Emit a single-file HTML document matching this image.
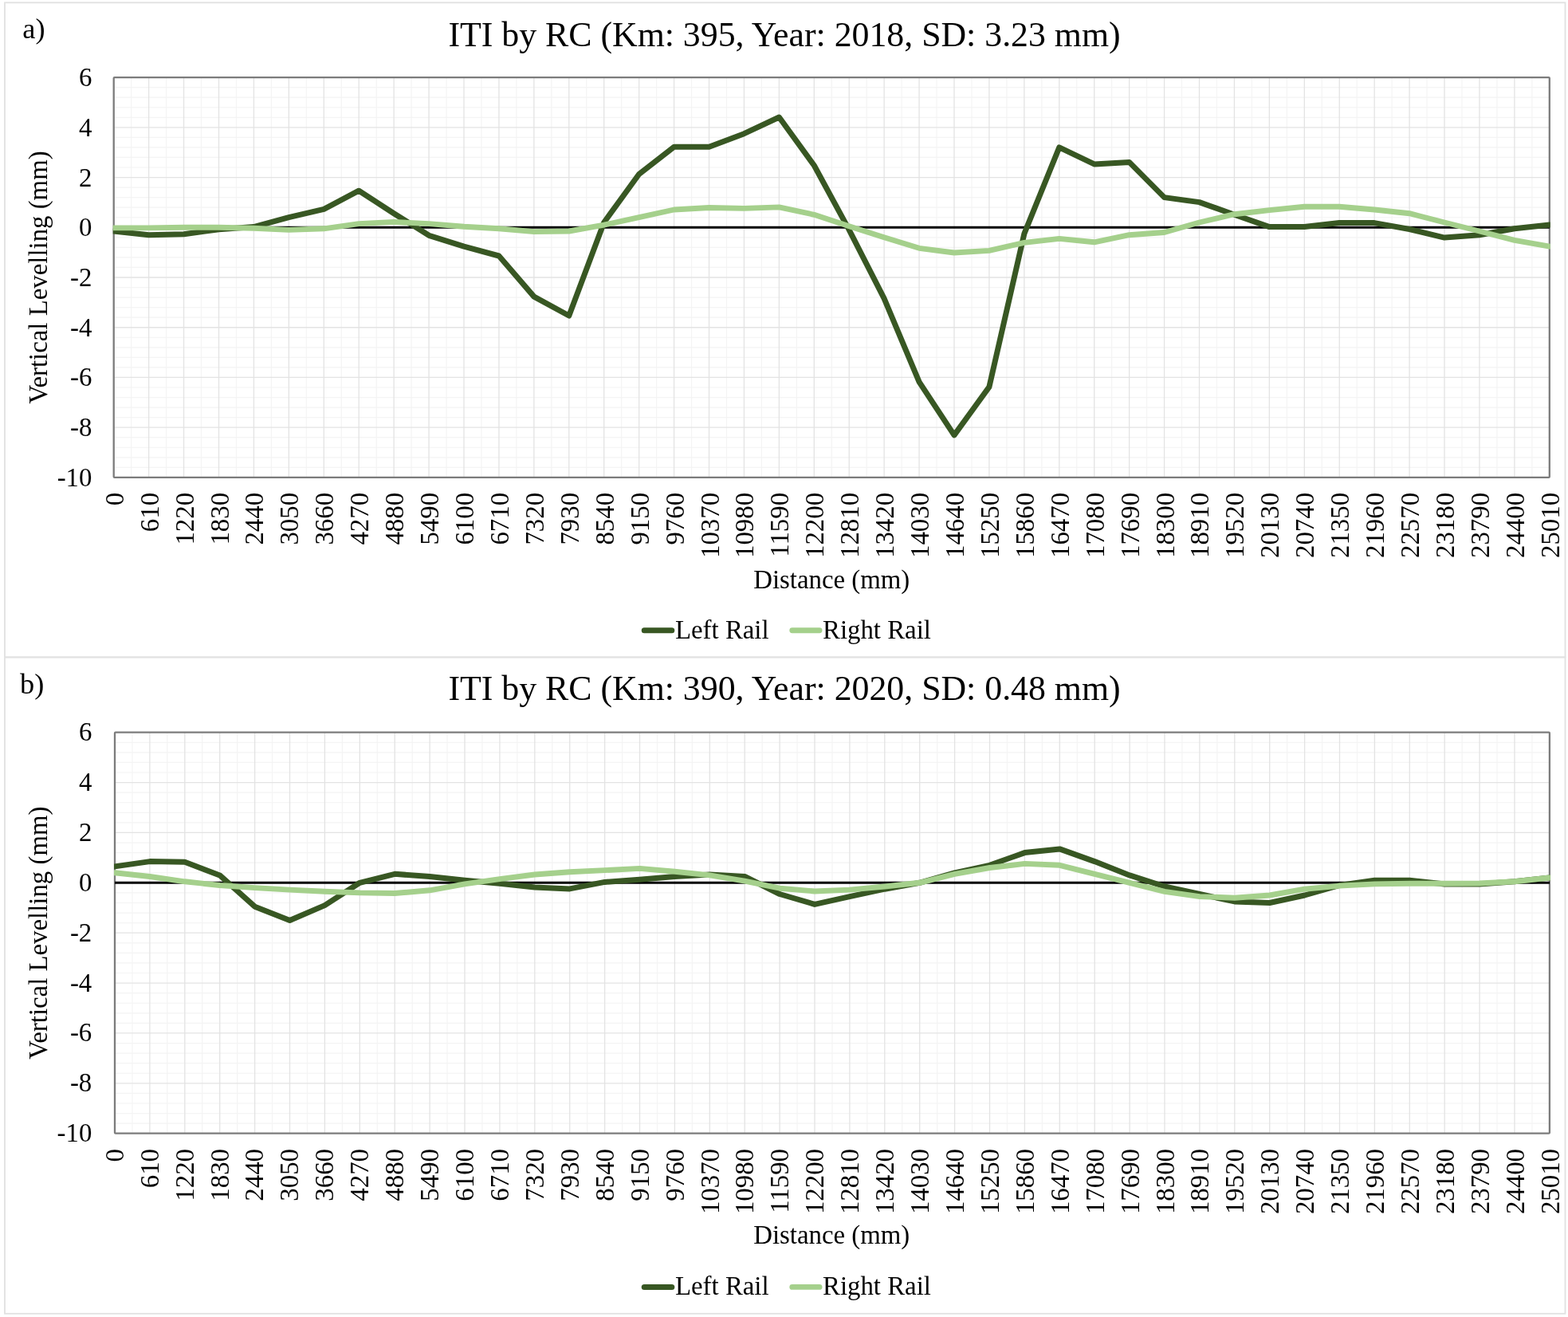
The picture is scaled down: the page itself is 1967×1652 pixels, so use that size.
<!DOCTYPE html>
<html lang="en"><head><meta charset="utf-8"><title>ITI by RC - Vertical Levelling</title>
<style>
html,body{margin:0;padding:0;background:#fff;}
body{width:1967px;height:1652px;overflow:hidden;}
svg{display:block;}
text{font-family:"Liberation Serif", "Times New Roman", serif;fill:#000;}
.t{font-size:43.80px;}
.l{font-size:32.85px;}
.g{font-size:36.3px;}
</style></head><body>
<svg width="1967" height="1652" viewBox="0 0 1967 1652">
<rect x="0" y="0" width="1967" height="1652" fill="#ffffff"/>
<defs>
<clipPath id="clip-a"><rect x="141.7" y="96.1" width="1803.1" height="503.8"/></clipPath>
<clipPath id="clip-b"><rect x="143.0" y="917.7" width="1801.9" height="505.0"/></clipPath>
</defs>
<g>
<rect x="6.0" y="3.3" width="1957.5" height="821.1" fill="none" stroke="#e1e1e1" stroke-width="1.8"/>
<path d="M142.7 109.65H1943.8M142.7 122.19H1943.8M142.7 134.74H1943.8M142.7 147.28H1943.8M142.7 172.37H1943.8M142.7 184.91H1943.8M142.7 197.46H1943.8M142.7 210.00H1943.8M142.7 235.09H1943.8M142.7 247.64H1943.8M142.7 260.18H1943.8M142.7 272.73H1943.8M142.7 297.82H1943.8M142.7 310.37H1943.8M142.7 322.91H1943.8M142.7 335.45H1943.8M142.7 360.54H1943.8M142.7 373.09H1943.8M142.7 385.63H1943.8M142.7 398.18H1943.8M142.7 423.27H1943.8M142.7 435.81H1943.8M142.7 448.36H1943.8M142.7 460.90H1943.8M142.7 486.00H1943.8M142.7 498.54H1943.8M142.7 511.09H1943.8M142.7 523.63H1943.8M142.7 548.72H1943.8M142.7 561.26H1943.8M142.7 573.81H1943.8M142.7 586.36H1943.8M164.66 97.1V598.9M208.59 97.1V598.9M252.52 97.1V598.9M296.45 97.1V598.9M340.38 97.1V598.9M384.31 97.1V598.9M428.24 97.1V598.9M472.17 97.1V598.9M516.10 97.1V598.9M560.03 97.1V598.9M603.96 97.1V598.9M647.89 97.1V598.9M691.82 97.1V598.9M735.75 97.1V598.9M779.67 97.1V598.9M823.60 97.1V598.9M867.53 97.1V598.9M911.46 97.1V598.9M955.39 97.1V598.9M999.32 97.1V598.9M1043.25 97.1V598.9M1087.18 97.1V598.9M1131.11 97.1V598.9M1175.04 97.1V598.9M1218.97 97.1V598.9M1262.90 97.1V598.9M1306.83 97.1V598.9M1350.75 97.1V598.9M1394.68 97.1V598.9M1438.61 97.1V598.9M1482.54 97.1V598.9M1526.47 97.1V598.9M1570.40 97.1V598.9M1614.33 97.1V598.9M1658.26 97.1V598.9M1702.19 97.1V598.9M1746.12 97.1V598.9M1790.05 97.1V598.9M1833.98 97.1V598.9M1877.91 97.1V598.9M1921.84 97.1V598.9" fill="none" stroke="#f4f4f4" stroke-width="1.2"/>
<path d="M142.7 536.17H1943.8M142.7 473.45H1943.8M142.7 410.73H1943.8M142.7 348.00H1943.8M142.7 222.55H1943.8M142.7 159.82H1943.8M186.63 97.1V598.9M230.56 97.1V598.9M274.49 97.1V598.9M318.42 97.1V598.9M362.35 97.1V598.9M406.28 97.1V598.9M450.20 97.1V598.9M494.13 97.1V598.9M538.06 97.1V598.9M581.99 97.1V598.9M625.92 97.1V598.9M669.85 97.1V598.9M713.78 97.1V598.9M757.71 97.1V598.9M801.64 97.1V598.9M845.57 97.1V598.9M889.50 97.1V598.9M933.43 97.1V598.9M977.36 97.1V598.9M1021.29 97.1V598.9M1065.21 97.1V598.9M1109.14 97.1V598.9M1153.07 97.1V598.9M1197.00 97.1V598.9M1240.93 97.1V598.9M1284.86 97.1V598.9M1328.79 97.1V598.9M1372.72 97.1V598.9M1416.65 97.1V598.9M1460.58 97.1V598.9M1504.51 97.1V598.9M1548.44 97.1V598.9M1592.37 97.1V598.9M1636.30 97.1V598.9M1680.22 97.1V598.9M1724.15 97.1V598.9M1768.08 97.1V598.9M1812.01 97.1V598.9M1855.94 97.1V598.9M1899.87 97.1V598.9" fill="none" stroke="#e3e3e3" stroke-width="1.3"/>
<rect x="142.7" y="97.1" width="1801.1" height="501.8" fill="none" stroke="#7c7c7c" stroke-width="2.3" rx="1"/>
<path d="M142.7 285.27H1943.8" fill="none" stroke="#000" stroke-width="3"/>
<g clip-path="url(#clip-a)">
<polyline points="142.7,290.0 186.6,294.7 230.6,293.7 274.5,287.8 318.4,284.6 362.3,272.7 406.3,262.4 450.2,239.2 494.1,267.7 538.1,295.3 582.0,309.1 625.9,321.0 669.9,372.1 713.8,396.0 757.7,279.0 801.6,218.5 845.6,184.3 889.5,184.3 933.4,167.7 977.4,147.0 1021.3,207.5 1065.2,288.4 1109.1,374.3 1153.1,479.1 1197.0,545.9 1240.9,485.4 1284.9,293.1 1328.8,184.9 1372.7,205.9 1416.6,203.4 1460.6,247.6 1504.5,253.6 1548.4,269.3 1592.4,284.6 1636.3,284.6 1680.2,279.6 1724.2,279.6 1768.1,287.5 1812.0,298.1 1855.9,294.7 1899.9,286.8 1943.8,282.1" fill="none" stroke="#385723" stroke-width="7.0" stroke-linejoin="round" stroke-linecap="round"/>
<polyline points="142.7,285.9 186.6,285.9 230.6,285.3 274.5,285.3 318.4,286.2 362.3,288.4 406.3,286.8 450.2,280.6 494.1,278.4 538.1,280.6 582.0,284.3 625.9,286.8 669.9,290.6 713.8,290.0 757.7,282.1 801.6,272.7 845.6,263.0 889.5,260.5 933.4,261.4 977.4,259.9 1021.3,269.3 1065.2,283.7 1109.1,297.8 1153.1,311.3 1197.0,317.0 1240.9,314.4 1284.9,304.4 1328.8,299.4 1372.7,303.8 1416.6,294.7 1460.6,291.5 1504.5,279.0 1548.4,268.7 1592.4,263.6 1636.3,259.2 1680.2,259.2 1724.2,263.0 1768.1,267.7 1812.0,279.0 1855.9,290.0 1899.9,301.3 1943.8,309.1" fill="none" stroke="#a5d08c" stroke-width="6.9" stroke-linejoin="round" stroke-linecap="round"/>
</g>
<text class="g" x="28.3" y="47.7">a)</text>
<text class="t" x="984.0" y="58.0" text-anchor="middle">ITI by RC (Km: 395, Year: 2018, SD: 3.23 mm)</text>
<text class="l" x="115.4" y="108.1" text-anchor="end">6</text>
<text class="l" x="115.4" y="170.8" text-anchor="end">4</text>
<text class="l" x="115.4" y="233.5" text-anchor="end">2</text>
<text class="l" x="115.4" y="296.3" text-anchor="end">0</text>
<text class="l" x="115.4" y="359.0" text-anchor="end">-2</text>
<text class="l" x="115.4" y="421.7" text-anchor="end">-4</text>
<text class="l" x="115.4" y="484.4" text-anchor="end">-6</text>
<text class="l" x="115.4" y="547.2" text-anchor="end">-8</text>
<text class="l" x="115.4" y="609.9" text-anchor="end">-10</text>
<text class="l" transform="translate(59.0 348.0) rotate(-90)" text-anchor="middle">Vertical Levelling (mm)</text>
<text class="l" transform="translate(154.7 617.9) rotate(-90)" text-anchor="end">0</text>
<text class="l" transform="translate(198.6 617.9) rotate(-90)" text-anchor="end">610</text>
<text class="l" transform="translate(242.6 617.9) rotate(-90)" text-anchor="end">1220</text>
<text class="l" transform="translate(286.5 617.9) rotate(-90)" text-anchor="end">1830</text>
<text class="l" transform="translate(330.4 617.9) rotate(-90)" text-anchor="end">2440</text>
<text class="l" transform="translate(374.3 617.9) rotate(-90)" text-anchor="end">3050</text>
<text class="l" transform="translate(418.3 617.9) rotate(-90)" text-anchor="end">3660</text>
<text class="l" transform="translate(462.2 617.9) rotate(-90)" text-anchor="end">4270</text>
<text class="l" transform="translate(506.1 617.9) rotate(-90)" text-anchor="end">4880</text>
<text class="l" transform="translate(550.0 617.9) rotate(-90)" text-anchor="end">5490</text>
<text class="l" transform="translate(594.0 617.9) rotate(-90)" text-anchor="end">6100</text>
<text class="l" transform="translate(637.9 617.9) rotate(-90)" text-anchor="end">6710</text>
<text class="l" transform="translate(681.8 617.9) rotate(-90)" text-anchor="end">7320</text>
<text class="l" transform="translate(725.7 617.9) rotate(-90)" text-anchor="end">7930</text>
<text class="l" transform="translate(769.7 617.9) rotate(-90)" text-anchor="end">8540</text>
<text class="l" transform="translate(813.6 617.9) rotate(-90)" text-anchor="end">9150</text>
<text class="l" transform="translate(857.5 617.9) rotate(-90)" text-anchor="end">9760</text>
<text class="l" transform="translate(901.5 617.9) rotate(-90)" text-anchor="end">10370</text>
<text class="l" transform="translate(945.4 617.9) rotate(-90)" text-anchor="end">10980</text>
<text class="l" transform="translate(989.3 617.9) rotate(-90)" text-anchor="end">11590</text>
<text class="l" transform="translate(1033.2 617.9) rotate(-90)" text-anchor="end">12200</text>
<text class="l" transform="translate(1077.2 617.9) rotate(-90)" text-anchor="end">12810</text>
<text class="l" transform="translate(1121.1 617.9) rotate(-90)" text-anchor="end">13420</text>
<text class="l" transform="translate(1165.0 617.9) rotate(-90)" text-anchor="end">14030</text>
<text class="l" transform="translate(1208.9 617.9) rotate(-90)" text-anchor="end">14640</text>
<text class="l" transform="translate(1252.9 617.9) rotate(-90)" text-anchor="end">15250</text>
<text class="l" transform="translate(1296.8 617.9) rotate(-90)" text-anchor="end">15860</text>
<text class="l" transform="translate(1340.7 617.9) rotate(-90)" text-anchor="end">16470</text>
<text class="l" transform="translate(1384.7 617.9) rotate(-90)" text-anchor="end">17080</text>
<text class="l" transform="translate(1428.6 617.9) rotate(-90)" text-anchor="end">17690</text>
<text class="l" transform="translate(1472.5 617.9) rotate(-90)" text-anchor="end">18300</text>
<text class="l" transform="translate(1516.4 617.9) rotate(-90)" text-anchor="end">18910</text>
<text class="l" transform="translate(1560.4 617.9) rotate(-90)" text-anchor="end">19520</text>
<text class="l" transform="translate(1604.3 617.9) rotate(-90)" text-anchor="end">20130</text>
<text class="l" transform="translate(1648.2 617.9) rotate(-90)" text-anchor="end">20740</text>
<text class="l" transform="translate(1692.1 617.9) rotate(-90)" text-anchor="end">21350</text>
<text class="l" transform="translate(1736.1 617.9) rotate(-90)" text-anchor="end">21960</text>
<text class="l" transform="translate(1780.0 617.9) rotate(-90)" text-anchor="end">22570</text>
<text class="l" transform="translate(1823.9 617.9) rotate(-90)" text-anchor="end">23180</text>
<text class="l" transform="translate(1867.8 617.9) rotate(-90)" text-anchor="end">23790</text>
<text class="l" transform="translate(1911.8 617.9) rotate(-90)" text-anchor="end">24400</text>
<text class="l" transform="translate(1955.7 617.9) rotate(-90)" text-anchor="end">25010</text>
<text class="l" x="1043.2" y="737.6" text-anchor="middle">Distance (mm)</text>
<path d="M808.2 790.7H842.8" fill="none" stroke="#385723" stroke-width="7.0" stroke-linecap="round"/>
<text class="l" x="847.0" y="800.5">Left Rail</text>
<path d="M993.8 790.7H1028.0" fill="none" stroke="#a5d08c" stroke-width="6.9" stroke-linecap="round"/>
<text class="l" x="1032.0" y="800.5">Right Rail</text>
</g>
<g>
<rect x="6.0" y="824.4" width="1957.5" height="823.4" fill="none" stroke="#e1e1e1" stroke-width="1.8"/>
<path d="M144.0 931.28H1943.9M144.0 943.85H1943.9M144.0 956.43H1943.9M144.0 969.00H1943.9M144.0 994.15H1943.9M144.0 1006.73H1943.9M144.0 1019.30H1943.9M144.0 1031.88H1943.9M144.0 1057.03H1943.9M144.0 1069.60H1943.9M144.0 1082.17H1943.9M144.0 1094.75H1943.9M144.0 1119.90H1943.9M144.0 1132.48H1943.9M144.0 1145.05H1943.9M144.0 1157.62H1943.9M144.0 1182.78H1943.9M144.0 1195.35H1943.9M144.0 1207.93H1943.9M144.0 1220.50H1943.9M144.0 1245.65H1943.9M144.0 1258.23H1943.9M144.0 1270.80H1943.9M144.0 1283.38H1943.9M144.0 1308.53H1943.9M144.0 1321.10H1943.9M144.0 1333.68H1943.9M144.0 1346.25H1943.9M144.0 1371.40H1943.9M144.0 1383.98H1943.9M144.0 1396.55H1943.9M144.0 1409.12H1943.9M165.95 918.7V1421.7M209.85 918.7V1421.7M253.75 918.7V1421.7M297.65 918.7V1421.7M341.55 918.7V1421.7M385.45 918.7V1421.7M429.35 918.7V1421.7M473.25 918.7V1421.7M517.15 918.7V1421.7M561.05 918.7V1421.7M604.95 918.7V1421.7M648.85 918.7V1421.7M692.75 918.7V1421.7M736.65 918.7V1421.7M780.55 918.7V1421.7M824.45 918.7V1421.7M868.35 918.7V1421.7M912.25 918.7V1421.7M956.15 918.7V1421.7M1000.05 918.7V1421.7M1043.95 918.7V1421.7M1087.85 918.7V1421.7M1131.75 918.7V1421.7M1175.65 918.7V1421.7M1219.55 918.7V1421.7M1263.45 918.7V1421.7M1307.35 918.7V1421.7M1351.25 918.7V1421.7M1395.15 918.7V1421.7M1439.05 918.7V1421.7M1482.95 918.7V1421.7M1526.85 918.7V1421.7M1570.75 918.7V1421.7M1614.65 918.7V1421.7M1658.55 918.7V1421.7M1702.45 918.7V1421.7M1746.35 918.7V1421.7M1790.25 918.7V1421.7M1834.15 918.7V1421.7M1878.05 918.7V1421.7M1921.95 918.7V1421.7" fill="none" stroke="#f4f4f4" stroke-width="1.2"/>
<path d="M144.0 1358.83H1943.9M144.0 1295.95H1943.9M144.0 1233.08H1943.9M144.0 1170.20H1943.9M144.0 1044.45H1943.9M144.0 981.58H1943.9M187.90 918.7V1421.7M231.80 918.7V1421.7M275.70 918.7V1421.7M319.60 918.7V1421.7M363.50 918.7V1421.7M407.40 918.7V1421.7M451.30 918.7V1421.7M495.20 918.7V1421.7M539.10 918.7V1421.7M583.00 918.7V1421.7M626.90 918.7V1421.7M670.80 918.7V1421.7M714.70 918.7V1421.7M758.60 918.7V1421.7M802.50 918.7V1421.7M846.40 918.7V1421.7M890.30 918.7V1421.7M934.20 918.7V1421.7M978.10 918.7V1421.7M1022.00 918.7V1421.7M1065.90 918.7V1421.7M1109.80 918.7V1421.7M1153.70 918.7V1421.7M1197.60 918.7V1421.7M1241.50 918.7V1421.7M1285.40 918.7V1421.7M1329.30 918.7V1421.7M1373.20 918.7V1421.7M1417.10 918.7V1421.7M1461.00 918.7V1421.7M1504.90 918.7V1421.7M1548.80 918.7V1421.7M1592.70 918.7V1421.7M1636.60 918.7V1421.7M1680.50 918.7V1421.7M1724.40 918.7V1421.7M1768.30 918.7V1421.7M1812.20 918.7V1421.7M1856.10 918.7V1421.7M1900.00 918.7V1421.7" fill="none" stroke="#e3e3e3" stroke-width="1.3"/>
<rect x="144.0" y="918.7" width="1799.9" height="503.0" fill="none" stroke="#7c7c7c" stroke-width="2.3" rx="1"/>
<path d="M144.0 1107.33H1943.9" fill="none" stroke="#000" stroke-width="3"/>
<g clip-path="url(#clip-b)">
<polyline points="144.0,1086.9 187.9,1080.6 231.8,1081.2 275.7,1097.9 319.6,1137.2 363.5,1154.5 407.4,1135.6 451.3,1107.3 495.2,1096.3 539.1,1099.5 583.0,1104.2 626.9,1108.3 670.8,1113.0 714.7,1114.9 758.6,1106.4 802.5,1103.2 846.4,1099.5 890.3,1097.0 934.2,1099.5 978.1,1121.5 1022.0,1134.4 1065.9,1124.6 1109.8,1115.2 1153.7,1107.3 1197.6,1094.8 1241.5,1085.3 1285.4,1069.6 1329.3,1064.9 1373.2,1080.6 1417.1,1097.9 1461.0,1112.0 1504.9,1121.5 1548.8,1130.9 1592.7,1132.5 1636.6,1123.0 1680.5,1110.5 1724.4,1104.2 1768.3,1104.2 1812.2,1108.9 1856.1,1108.9 1900.0,1105.8 1943.9,1101.0" fill="none" stroke="#385723" stroke-width="7.0" stroke-linejoin="round" stroke-linecap="round"/>
<polyline points="144.0,1094.8 187.9,1099.5 231.8,1105.8 275.7,1110.5 319.6,1113.6 363.5,1116.1 407.4,1118.3 451.3,1119.9 495.2,1120.5 539.1,1116.8 583.0,1108.9 626.9,1102.6 670.8,1097.0 714.7,1093.8 758.6,1091.6 802.5,1089.4 846.4,1093.2 890.3,1097.9 934.2,1105.1 978.1,1114.2 1022.0,1118.0 1065.9,1116.1 1109.8,1112.0 1153.7,1107.3 1197.6,1096.3 1241.5,1088.5 1285.4,1083.4 1329.3,1085.3 1373.2,1096.3 1417.1,1107.3 1461.0,1118.3 1504.9,1124.6 1548.8,1126.2 1592.7,1123.0 1636.6,1115.2 1680.5,1111.1 1724.4,1108.9 1768.3,1108.3 1812.2,1108.3 1856.1,1108.0 1900.0,1105.8 1943.9,1101.0" fill="none" stroke="#a5d08c" stroke-width="6.9" stroke-linejoin="round" stroke-linecap="round"/>
</g>
<text class="g" x="25.0" y="870.3">b)</text>
<text class="t" x="984.0" y="878.0" text-anchor="middle">ITI by RC (Km: 390, Year: 2020, SD: 0.48 mm)</text>
<text class="l" x="115.3" y="929.1" text-anchor="end">6</text>
<text class="l" x="115.3" y="992.0" text-anchor="end">4</text>
<text class="l" x="115.3" y="1054.9" text-anchor="end">2</text>
<text class="l" x="115.3" y="1117.7" text-anchor="end">0</text>
<text class="l" x="115.3" y="1180.6" text-anchor="end">-2</text>
<text class="l" x="115.3" y="1243.5" text-anchor="end">-4</text>
<text class="l" x="115.3" y="1306.4" text-anchor="end">-6</text>
<text class="l" x="115.3" y="1369.2" text-anchor="end">-8</text>
<text class="l" x="115.3" y="1432.1" text-anchor="end">-10</text>
<text class="l" transform="translate(59.0 1170.2) rotate(-90)" text-anchor="middle">Vertical Levelling (mm)</text>
<text class="l" transform="translate(154.7 1441.0) rotate(-90)" text-anchor="end">0</text>
<text class="l" transform="translate(198.6 1441.0) rotate(-90)" text-anchor="end">610</text>
<text class="l" transform="translate(242.6 1441.0) rotate(-90)" text-anchor="end">1220</text>
<text class="l" transform="translate(286.5 1441.0) rotate(-90)" text-anchor="end">1830</text>
<text class="l" transform="translate(330.4 1441.0) rotate(-90)" text-anchor="end">2440</text>
<text class="l" transform="translate(374.3 1441.0) rotate(-90)" text-anchor="end">3050</text>
<text class="l" transform="translate(418.3 1441.0) rotate(-90)" text-anchor="end">3660</text>
<text class="l" transform="translate(462.2 1441.0) rotate(-90)" text-anchor="end">4270</text>
<text class="l" transform="translate(506.1 1441.0) rotate(-90)" text-anchor="end">4880</text>
<text class="l" transform="translate(550.0 1441.0) rotate(-90)" text-anchor="end">5490</text>
<text class="l" transform="translate(594.0 1441.0) rotate(-90)" text-anchor="end">6100</text>
<text class="l" transform="translate(637.9 1441.0) rotate(-90)" text-anchor="end">6710</text>
<text class="l" transform="translate(681.8 1441.0) rotate(-90)" text-anchor="end">7320</text>
<text class="l" transform="translate(725.7 1441.0) rotate(-90)" text-anchor="end">7930</text>
<text class="l" transform="translate(769.7 1441.0) rotate(-90)" text-anchor="end">8540</text>
<text class="l" transform="translate(813.6 1441.0) rotate(-90)" text-anchor="end">9150</text>
<text class="l" transform="translate(857.5 1441.0) rotate(-90)" text-anchor="end">9760</text>
<text class="l" transform="translate(901.5 1441.0) rotate(-90)" text-anchor="end">10370</text>
<text class="l" transform="translate(945.4 1441.0) rotate(-90)" text-anchor="end">10980</text>
<text class="l" transform="translate(989.3 1441.0) rotate(-90)" text-anchor="end">11590</text>
<text class="l" transform="translate(1033.2 1441.0) rotate(-90)" text-anchor="end">12200</text>
<text class="l" transform="translate(1077.2 1441.0) rotate(-90)" text-anchor="end">12810</text>
<text class="l" transform="translate(1121.1 1441.0) rotate(-90)" text-anchor="end">13420</text>
<text class="l" transform="translate(1165.0 1441.0) rotate(-90)" text-anchor="end">14030</text>
<text class="l" transform="translate(1208.9 1441.0) rotate(-90)" text-anchor="end">14640</text>
<text class="l" transform="translate(1252.9 1441.0) rotate(-90)" text-anchor="end">15250</text>
<text class="l" transform="translate(1296.8 1441.0) rotate(-90)" text-anchor="end">15860</text>
<text class="l" transform="translate(1340.7 1441.0) rotate(-90)" text-anchor="end">16470</text>
<text class="l" transform="translate(1384.7 1441.0) rotate(-90)" text-anchor="end">17080</text>
<text class="l" transform="translate(1428.6 1441.0) rotate(-90)" text-anchor="end">17690</text>
<text class="l" transform="translate(1472.5 1441.0) rotate(-90)" text-anchor="end">18300</text>
<text class="l" transform="translate(1516.4 1441.0) rotate(-90)" text-anchor="end">18910</text>
<text class="l" transform="translate(1560.4 1441.0) rotate(-90)" text-anchor="end">19520</text>
<text class="l" transform="translate(1604.3 1441.0) rotate(-90)" text-anchor="end">20130</text>
<text class="l" transform="translate(1648.2 1441.0) rotate(-90)" text-anchor="end">20740</text>
<text class="l" transform="translate(1692.1 1441.0) rotate(-90)" text-anchor="end">21350</text>
<text class="l" transform="translate(1736.1 1441.0) rotate(-90)" text-anchor="end">21960</text>
<text class="l" transform="translate(1780.0 1441.0) rotate(-90)" text-anchor="end">22570</text>
<text class="l" transform="translate(1823.9 1441.0) rotate(-90)" text-anchor="end">23180</text>
<text class="l" transform="translate(1867.8 1441.0) rotate(-90)" text-anchor="end">23790</text>
<text class="l" transform="translate(1911.8 1441.0) rotate(-90)" text-anchor="end">24400</text>
<text class="l" transform="translate(1955.7 1441.0) rotate(-90)" text-anchor="end">25010</text>
<text class="l" x="1043.2" y="1559.9" text-anchor="middle">Distance (mm)</text>
<path d="M808.2 1614.4H842.8" fill="none" stroke="#385723" stroke-width="7.0" stroke-linecap="round"/>
<text class="l" x="847.0" y="1624.0">Left Rail</text>
<path d="M993.8 1614.4H1028.0" fill="none" stroke="#a5d08c" stroke-width="6.9" stroke-linecap="round"/>
<text class="l" x="1032.0" y="1624.0">Right Rail</text>
</g>
</svg>
</body></html>
